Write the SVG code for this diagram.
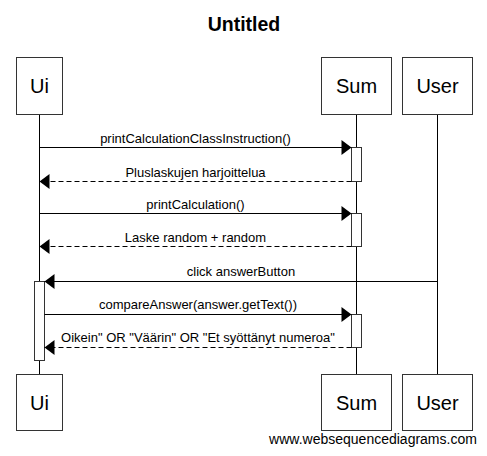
<svg xmlns="http://www.w3.org/2000/svg" width="487" height="456" viewBox="0 0 487 456">
<defs>
<style>
.box{fill:#fff;stroke:#333;stroke-width:1}
.pt{font-family:"Liberation Sans",Arial,sans-serif;font-size:20px;text-anchor:middle;fill:#000}
.life{stroke:#000;stroke-width:1;fill:none}
.act{fill:#fff;stroke:#333;stroke-width:1}
.msg{stroke:#000;stroke-width:1;fill:none;marker-end:url(#ah)}
.ret{stroke:#000;stroke-width:1;fill:none;stroke-dasharray:5,3;marker-end:url(#ah)}
.lbl{font-family:"Liberation Sans",Arial,sans-serif;font-size:13px;text-anchor:middle;fill:#000}
</style>
<marker id="ah" markerUnits="userSpaceOnUse" markerWidth="12" markerHeight="16" refX="10" refY="7.5" orient="auto" overflow="visible">
<path d="M0,0 L10,7.5 L0,15 z" fill="#000"/>
</marker>
</defs>
<rect width="487" height="456" fill="#fff"/>
<text x="244" y="31" font-family="'Liberation Sans',Arial,sans-serif" font-size="19.5" font-weight="bold" text-anchor="middle">Untitled</text>
<g id="lifelines">
<line class="life" x1="39.5" y1="114" x2="39.5" y2="374"/>
<line class="life" x1="356.5" y1="114" x2="356.5" y2="374"/>
<line class="life" x1="437.5" y1="114" x2="437.5" y2="374"/>
</g>
<g id="Ui">
<rect class="box" x="16.5" y="57.5" width="46" height="57"/>
<text class="pt" x="39.5" y="93">Ui</text>
<rect class="box" x="16.5" y="374.5" width="46" height="56"/>
<text class="pt" x="39.5" y="410">Ui</text>
</g>
<g id="Sum">
<rect class="box" x="321.5" y="57.5" width="70" height="57"/>
<text class="pt" x="356.5" y="93">Sum</text>
<rect class="box" x="321.5" y="374.5" width="70" height="56"/>
<text class="pt" x="356.5" y="410">Sum</text>
</g>
<g id="User">
<rect class="box" x="402.5" y="57.5" width="70" height="57"/>
<text class="pt" x="437.5" y="93">User</text>
<rect class="box" x="402.5" y="374.5" width="70" height="56"/>
<text class="pt" x="437.5" y="410">User</text>
</g>
<g id="activations">
<rect class="act" x="351.5" y="147.5" width="10" height="34"/>
<rect class="act" x="351.5" y="213.5" width="10" height="33"/>
<rect class="act" x="351.5" y="314.5" width="10" height="33"/>
<rect class="act" x="34.5" y="281.5" width="10" height="79"/>
</g>
<g id="connectors">
<line class="msg" x1="39.5" y1="147.5" x2="351.5" y2="147.5"/>
<text class="lbl" x="195.5" y="143">printCalculationClassInstruction()</text>
<line class="ret" x1="351.5" y1="181.5" x2="39.5" y2="181.5"/>
<text class="lbl" x="195.5" y="177">Pluslaskujen harjoittelua</text>
<line class="msg" x1="39.5" y1="213.5" x2="351.5" y2="213.5"/>
<text class="lbl" x="195.5" y="209">printCalculation()</text>
<line class="ret" x1="351.5" y1="246.5" x2="39.5" y2="246.5"/>
<text class="lbl" x="195.5" y="242">Laske random + random</text>
<line class="msg" x1="437.5" y1="281.5" x2="44.5" y2="281.5"/>
<text class="lbl" x="241" y="276">click answerButton</text>
<line class="msg" x1="44.5" y1="314.5" x2="351.5" y2="314.5"/>
<text class="lbl" x="198" y="309">compareAnswer(answer.getText())</text>
<line class="ret" x1="351.5" y1="347.5" x2="44.5" y2="347.5"/>
<text class="lbl" x="198" y="342">Oikein" OR "Väärin" OR "Et syöttänyt numeroa"</text>
</g>
<text x="373" y="444" font-family="'Liberation Sans',Arial,sans-serif" font-size="14" text-anchor="middle">www.websequencediagrams.com</text>
</svg>
